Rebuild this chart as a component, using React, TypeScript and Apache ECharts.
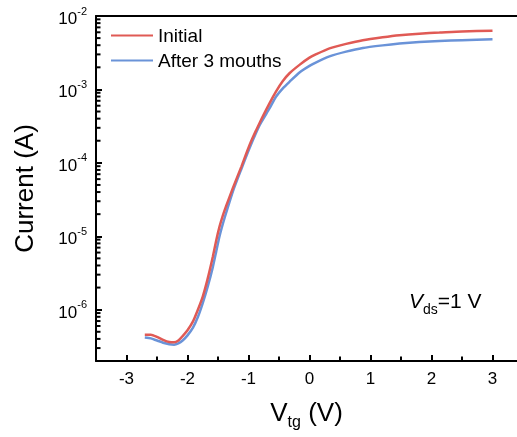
import React, { useEffect, useRef } from "react";
import * as echarts from "echarts";

// Gate voltage (V) sample points
const vInitial = [-2.7, -2.6, -2.5, -2.4, -2.3, -2.22, -2.15, -2.08, -2.0, -1.91, -1.83, -1.75, -1.67, -1.585, -1.53, -1.475, -1.42, -1.366, -1.257, -1.12, -0.984, -0.82, -0.656, -0.55, -0.437, -0.328, -0.164, 0, 0.11, 0.328, 0.6, 0.874, 1.2, 1.475, 1.8, 2.13, 2.5, 3.0];
// Current (A), Initial
const iInitial = [4.57e-7, 4.57e-7, 4.27e-7, 3.89e-7, 3.63e-7, 3.59e-7, 3.8e-7, 4.37e-7, 5.25e-7, 6.92e-7, 1.0e-6, 1.51e-6, 2.63e-6, 5.25e-6, 8.71e-6, 1.35e-5, 1.92e-5, 2.59e-5, 4.51e-5, 8.75e-5, 1.74e-4, 3.47e-4, 6.46e-4, 9.33e-4, 1.3e-3, 1.66e-3, 2.16e-3, 2.71e-3, 3.02e-3, 3.63e-3, 4.17e-3, 4.68e-3, 5.13e-3, 5.47e-3, 5.75e-3, 5.94e-3, 6.17e-3, 6.31e-3];
const vAfter = [-2.7, -2.6, -2.5, -2.4, -2.3, -2.22, -2.15, -2.08, -2.0, -1.91, -1.83, -1.75, -1.67, -1.585, -1.53, -1.475, -1.42, -1.366, -1.257, -1.12, -0.984, -0.82, -0.656, -0.55, -0.437, -0.328, -0.164, 0, 0.11, 0.328, 0.6, 0.874, 1.2, 1.475, 1.8, 2.13, 2.5, 3.0];
// Current (A), After 3 mouths
const iAfter = [4.17e-7, 4.07e-7, 3.8e-7, 3.55e-7, 3.39e-7, 3.34e-7, 3.47e-7, 3.8e-7, 4.47e-7, 5.69e-7, 7.94e-7, 1.23e-6, 2.04e-6, 3.8e-6, 6.17e-6, 1.0e-5, 1.48e-5, 2.09e-5, 4.07e-5, 8.13e-5, 1.58e-4, 3.24e-4, 5.5e-4, 7.94e-4, 1.035e-3, 1.27e-3, 1.7e-3, 2.09e-3, 2.34e-3, 2.82e-3, 3.27e-3, 3.67e-3, 3.98e-3, 4.21e-3, 4.42e-3, 4.57e-3, 4.68e-3, 4.82e-3];

const seriesNames = ["Initial", "After 3 mouths"];
const xMajorTicks = [-3, -2, -1, 0, 1, 2, 3];
const xMinorTicks = [-2.5, -1.5, -0.5, 0.5, 1.5, 2.5];
const yDecades = [-6, -5, -4, -3, -2];
const xMin = -3.5;
const xMax = 3.4016;
const yMin = 2e-7;
const yMax = 1e-2;

const FONT = "'Liberation Sans', Arial, sans-serif";
const RED = "#e05a55";
const BLUE = "#6a93d8";

export default function App() {
  const ref = useRef<HTMLDivElement>(null);
  useEffect(() => {
    if (!ref.current) return;
    const chart = echarts.init(ref.current, undefined, { renderer: "svg" });
    const lo = Math.log10(yMin);
    const hi = Math.log10(yMax);
    const minorY: number[] = [];
    for (let n = -7; n <= -3; n++) {
      for (let k = 2; k <= 9; k++) {
        const v = Math.log10(k * Math.pow(10, n));
        if (v > lo + 1e-9 && v < hi) minorY.push(v);
      }
    }
    const toPts = (xs: number[], ys: number[]) => xs.map((x, i) => [x, Math.log10(ys[i])]);
    const axisLine = { show: true, onZero: false, lineStyle: { color: "#000", width: 2 } };
    const option: any = {
      animation: false,
      textStyle: { fontFamily: FONT },
      grid: { left: 96, top: 16, right: 0, height: 345, containLabel: false },
      legend: {
        orient: "vertical",
        left: 105,
        top: 21,
        itemWidth: 42,
        itemHeight: 18,
        itemGap: 6,
        itemStyle: { opacity: 0 },
        textStyle: { fontSize: 19, color: "#000", fontFamily: FONT, lineHeight: 18 },
        data: seriesNames,
      },
      xAxis: [
        {
          type: "value",
          min: xMin,
          max: xMax,
          position: "bottom",
          axisLine,
          axisTick: { show: true, inside: true, length: 6, customValues: xMajorTicks, lineStyle: { width: 2, color: "#000" } },
          axisLabel: { customValues: xMajorTicks, fontSize: 17, color: "#000", margin: 9, fontFamily: FONT },
          splitLine: { show: false },
          name: "{v|V}{s|tg}{v| (V)}",
          nameLocation: "middle",
          nameGap: 38,
          nameTextStyle: {
            rich: {
              v: { fontSize: 26, color: "#000", fontFamily: FONT, lineHeight: 30, verticalAlign: "top" },
              s: { fontSize: 16, color: "#000", fontFamily: FONT, lineHeight: 30, verticalAlign: "bottom" },
            },
          },
        },
        {
          type: "value",
          min: xMin,
          max: xMax,
          position: "top",
          axisLine,
          axisTick: { show: false },
          axisLabel: { show: false },
          splitLine: { show: false },
        },
      ],
      yAxis: [
        {
          type: "value",
          min: lo,
          max: hi,
          position: "left",
          axisLine,
          axisTick: { show: true, inside: true, length: 6, customValues: yDecades, lineStyle: { width: 2, color: "#000" } },
          axisLabel: {
            customValues: yDecades,
            margin: 9,
            formatter: (v: number) => `{b|10}{s|${Math.round(v)}}`,
            rich: {
              b: { fontSize: 17, color: "#000", fontFamily: FONT, lineHeight: 22, verticalAlign: "bottom" },
              s: { fontSize: 11, color: "#000", fontFamily: FONT, lineHeight: 22, verticalAlign: "top" },
            },
          },
          splitLine: { show: false },
          name: "Current (A)",
          nameLocation: "middle",
          nameRotate: 90,
          nameGap: 59,
          nameTextStyle: { fontSize: 26, color: "#000", fontFamily: FONT },
        },
      ],
      series: [
        {
          name: "yMinorTicks",
          type: "scatter",
          clip: false,
          silent: true,
          symbol: "rect",
          symbolSize: [4.5, 2],
          symbolOffset: [2.25, 0],
          itemStyle: { color: "#000", opacity: 1 },
          data: minorY.map((v) => [xMin, v]),
          z: 5,
        },
        {
          name: "xMinorTicks",
          type: "scatter",
          clip: false,
          silent: true,
          symbol: "rect",
          symbolSize: [2, 4.5],
          symbolOffset: [0, -2.25],
          itemStyle: { color: "#000", opacity: 1 },
          data: xMinorTicks.map((v) => [v, lo]),
          z: 5,
        },
        {
          name: seriesNames[0],
          type: "line",
          data: toPts(vInitial, iInitial),
          showSymbol: false,
          symbol: "none",
          smooth: 0.2,
          color: RED,
          lineStyle: { color: RED, width: 2.5 },
          z: 3,
        },
        {
          name: seriesNames[1],
          type: "line",
          data: toPts(vAfter, iAfter),
          showSymbol: false,
          symbol: "none",
          smooth: 0.2,
          color: BLUE,
          lineStyle: { color: BLUE, width: 2.5 },
          z: 2,
        },
      ],
      graphic: [
        {
          type: "text",
          left: 409,
          top: 290,
          style: {
            text: "{i|V}{s|ds}{n|=1 V}",
            rich: {
              i: { fontSize: 21, fontStyle: "italic", fill: "#000", fontFamily: FONT, lineHeight: 26, verticalAlign: "top" },
              s: { fontSize: 14, fill: "#000", fontFamily: FONT, lineHeight: 26, verticalAlign: "bottom" },
              n: { fontSize: 21, fill: "#000", fontFamily: FONT, lineHeight: 26, verticalAlign: "top" },
            },
          },
        },
      ],
    };
    chart.setOption(option);
    return () => chart.dispose();
  }, []);
  return <div ref={ref} style={{ position: "fixed", left: 0, top: 0, width: 517, height: 437 }} />;
}
